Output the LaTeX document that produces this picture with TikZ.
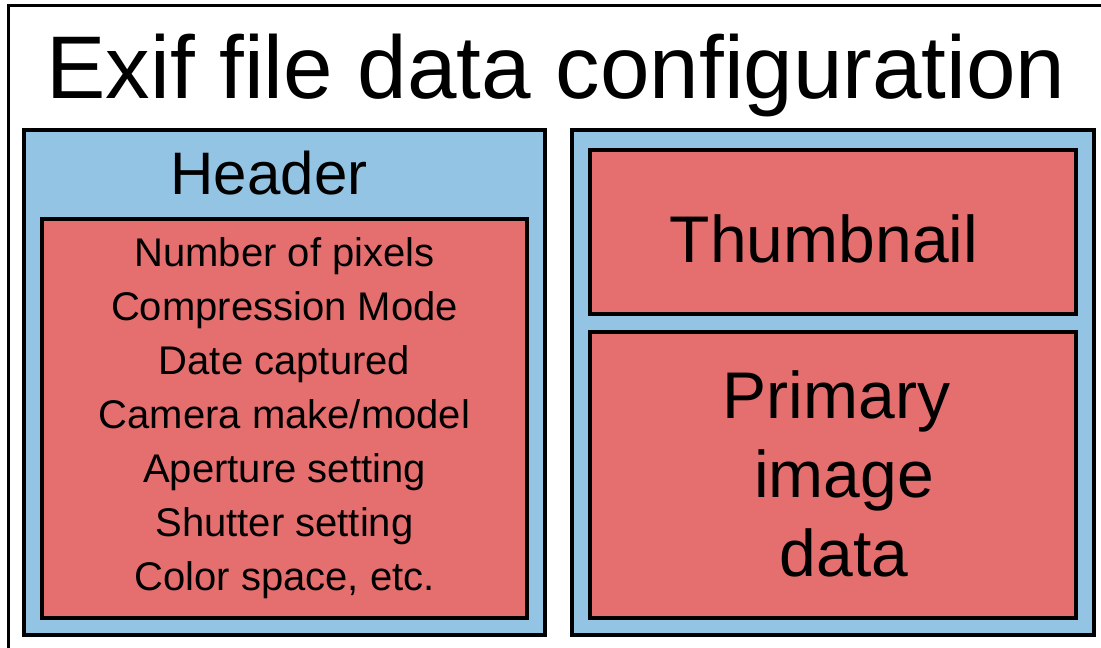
\documentclass[tikz,border=0pt]{standalone}
\usepackage{fontspec}
\setmainfont{Liberation Sans}
\usepackage{tikz}
\usetikzlibrary{positioning}
\definecolor{exifblue}{RGB}{147,196,228}
\definecolor{exifred}{RGB}{229,110,110}
\tikzset{
    block/.style={draw=black, line width=4pt, rectangle, inner sep=0pt, align=center},
    outerblock/.style={block, fill=exifblue},
    innerblock/.style={block, fill=exifred},
}
\begin{document}
\begin{tikzpicture}[x=1pt, y=-1pt]
    \path[use as bounding box, clip] (0,0) rectangle (1101,648);
    \fill[white] (0,0) rectangle (1101,648);
    \draw[line width=3.5pt] (8.5,5.5) rectangle (1120,670);
    \node[anchor=base, font=\fontsize{89}{107}\selectfont] at (556,98) (title) {Exif file data configuration};
    % header block
    \node[outerblock, minimum width=521pt, minimum height=505pt] at (284.5,382.5) (hdrbox) {};
    \node[anchor=base, font=\fontsize{60}{72}\selectfont] at (269,194) (hdrlabel) {Header};
    \node[innerblock, minimum width=485pt, minimum height=399pt, font=\fontsize{40}{54}\selectfont] at (284.5,418.5) (hdrfields)
        {Number of pixels\\Compression Mode\\Date captured\\Camera make/model\\Aperture setting\\Shutter setting\\Color space, etc.};
    % image block
    \node[outerblock, minimum width=522pt, minimum height=505pt] at (833,382.5) (imgbox) {};
    \node[innerblock, minimum width=486pt, minimum height=164pt] at (833,232) (thumb) {};
    \node[anchor=base, font=\fontsize{66}{79}\selectfont] at (824,262) (thumblabel) {Thumbnail};
    \node[innerblock, minimum width=486pt, minimum height=286pt] at (833,475) (primary) {};
    \node[align=center, font=\fontsize{66}{79}\selectfont] at (844,474) (primarylabel)
        {Primary\hspace*{15pt}\\image\\data};
\end{tikzpicture}
\end{document}
